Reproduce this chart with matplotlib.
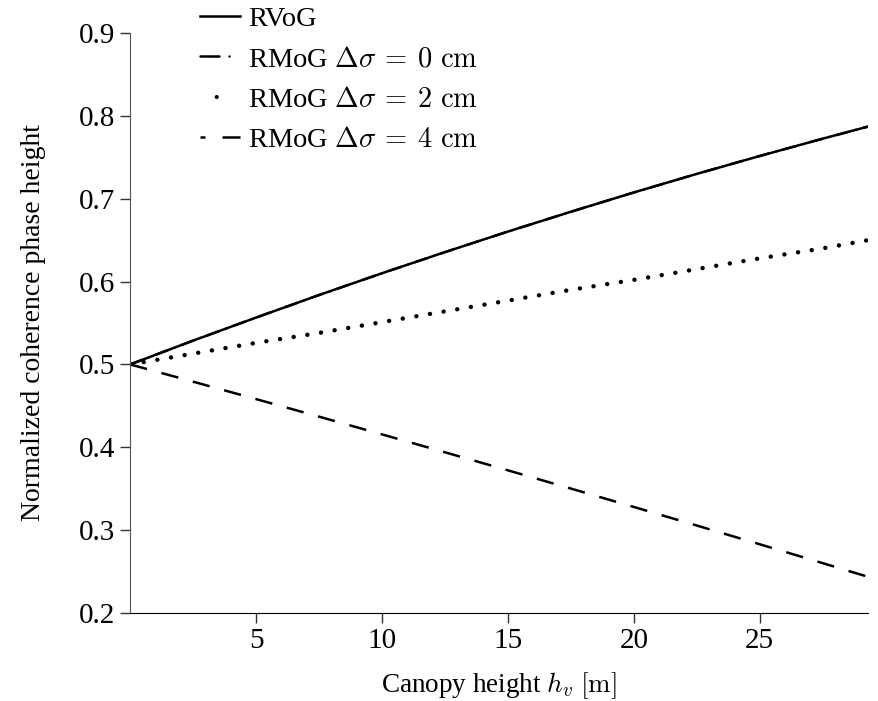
import matplotlib
matplotlib.use('Agg')
import matplotlib.pyplot as plt
from matplotlib.lines import Line2D

plt.rcParams['font.family'] = ['Liberation Serif', 'DejaVu Serif']
plt.rcParams['mathtext.fontset'] = 'cm'

hv = [0, 2.5, 5, 7.5, 10, 12.5, 15, 17.5, 20, 22.5, 25, 27.5, 29.3]
rvog = [0.5, 0.5287, 0.5565, 0.5837, 0.61, 0.6355, 0.6603, 0.6842, 0.7075, 0.7299, 0.7515, 0.7724, 0.787]
rmog_0 = [0.5, 0.5287, 0.5565, 0.5837, 0.61, 0.6355, 0.6603, 0.6842, 0.7075, 0.7299, 0.7515, 0.7724, 0.787]
rmog_2 = [0.5, 0.513, 0.526, 0.538, 0.551, 0.564, 0.577, 0.590, 0.602, 0.615, 0.628, 0.640, 0.650]
rmog_4 = [0.5, 0.4792, 0.4582, 0.4370, 0.4156, 0.3940, 0.3722, 0.3502, 0.3280, 0.3056, 0.2830, 0.2602, 0.2437]

labels = ['RVoG',
          r'RMoG $\Delta\sigma\:=\:0\ \mathrm{cm}$',
          r'RMoG $\Delta\sigma\:=\:2\ \mathrm{cm}$',
          r'RMoG $\Delta\sigma\:=\:4\ \mathrm{cm}$']

fig = plt.figure(figsize=(8.79, 7.01), dpi=100)
ax = fig.add_axes([0.148, 0.1255, 0.8395, 0.8275])

ax.plot(hv, rmog_0, color='black', lw=1.8, linestyle=(0, (5, 3, 0.01, 3)), dash_capstyle='round')
ax.plot(hv, rvog, color='black', lw=1.8)
ax.plot(hv, rmog_2, color='black', lw=3.2, linestyle=(0, (0.01, 3.1)), dash_capstyle='round')
ax.plot(hv, rmog_4, color='black', lw=1.8, linestyle=(0, (7, 6)))

ax.set_xlim(0, 29.3)
ax.set_ylim(0.2, 0.9)
ax.set_xticks([5, 10, 15, 20, 25])
ax.set_yticks([0.2, 0.3, 0.4, 0.5, 0.6, 0.7, 0.8, 0.9])
ax.set_yticklabels(['0.2', '0.3', '0.4', '0.5', '0.6', '0.7', '0.8', '0.9'])
for s in ['top', 'right']:
    ax.spines[s].set_visible(False)
ax.spines['left'].set_color('#555555')
ax.spines['bottom'].set_color('black')
ax.tick_params(direction='out', length=7, width=1, labelsize=21, color='#333333')
ax.set_xlabel(r'Canopy height $h_v$ $[\mathrm{m}]$', fontsize=19.5, labelpad=12)
ax.set_ylabel('Normalized coherence phase height', fontsize=20, labelpad=24)

# legend proxies so the short handles look like the original
handles = [
    Line2D([], [], color='black', lw=1.8),
    Line2D([], [], color='black', lw=1.8, linestyle=(0, (7.6, 4, 0.01, 20)), dash_capstyle='round'),
    Line2D([], [], color='black', lw=3, linestyle=(16, (0.01, 20)), dash_capstyle='round'),
    Line2D([], [], color='black', lw=1.8, linestyle=(5.6, (7.6, 6.8))),
]
fig.legend(handles=handles, labels=labels, loc='upper left', bbox_to_anchor=(0.228, 0.991),
           frameon=False, fontsize=20.5, handlelength=1.4, handletextpad=0.28,
           labelspacing=0.5, borderaxespad=0, borderpad=0)

fig.savefig('out.png', dpi=100)
